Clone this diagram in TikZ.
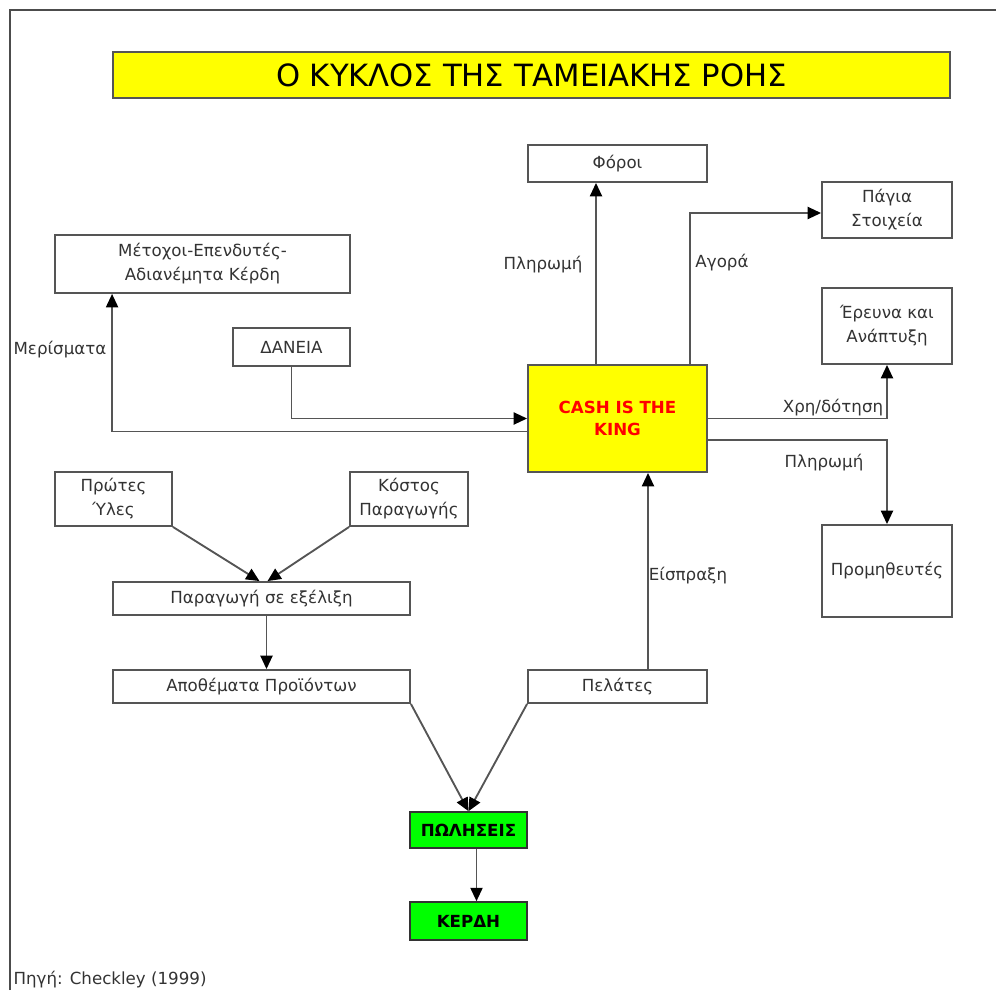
\documentclass[tikz,border=0pt]{standalone}
\usepackage{fontspec}
\setmainfont{DejaVu Sans}
\usepackage{xcolor}
\definecolor{TitleYellow}{HTML}{FFFF00}
\definecolor{SalesGreen}{HTML}{00FF00}
\definecolor{KingRed}{HTML}{FF0000}
\definecolor{LineGrey}{HTML}{555555}
\usetikzlibrary{arrows.meta, positioning, calc}
\tikzset{
  % Box styles
  flowbox/.style={rectangle, draw=LineGrey, line width=1.4pt, fill=white, inner sep=2pt, align=center, text=black!80, font=\fontsize{12.5}{18}\selectfont},
  cashbox/.style={flowbox, fill=TitleYellow, text=KingRed, font=\fontsize{12.5}{17}\selectfont\bfseries},
  salesbox/.style={rectangle, draw=black!80, line width=1.2pt, fill=SalesGreen, align=center, font=\fontsize{12.5}{15}\selectfont\bfseries},
  titlebox/.style={rectangle, draw=LineGrey, line width=1.4pt, fill=TitleYellow, align=center, font=\fontsize{23}{27}\selectfont},
  % Label style
  flowlabel/.style={inner sep=1pt, text=black!80, font=\fontsize{12.5}{15}\selectfont},
  % Arrow styles
  arrow/.style={-{Triangle[length=10pt,width=9pt,color=black]}, line width=1.4pt, LineGrey}
}

\begin{document}
\begin{tikzpicture}[x=0.75pt,y=-0.75pt]
  \useasboundingbox (0,0) rectangle (996,990);
  % outer frame
  \draw[line width=1.2pt, black!70] (10,990) -- (10,10) -- (996,10);

  % Title
  \node[titlebox, minimum width=627.75pt, minimum height=34.5pt] (title) at (531.5,75) {Ο ΚΥΚΛΟΣ ΤΗΣ ΤΑΜΕΙΑΚΗΣ ΡΟΗΣ};

  % Boxes
  \node[flowbox, minimum width=134.25pt, minimum height=27.75pt] (foroi) at (617.5,163.5) {Φόροι};
  \node[flowbox, minimum width=97.5pt, minimum height=42pt] (pagia) at (887,210) {Πάγια\\Στοιχεία};
  \node[flowbox, minimum width=221.25pt, minimum height=43.5pt] (metoxoi) at (202.5,264) {Μέτοχοι-Επενδυτές-\\Αδιανέμητα Κέρδη};
  \node[flowbox, minimum width=97.5pt, minimum height=57pt] (erevna) at (887,326) {Έρευνα και\\Ανάπτυξη};
  \node[flowbox, minimum width=87.75pt, minimum height=28.5pt] (daneia) at (291.5,347) {ΔΑΝΕΙΑ};
  \node[cashbox, minimum width=134.25pt, minimum height=80.25pt] (cash) at (617.5,418.5) {CASH IS THE\\KING};
  \node[flowbox, minimum width=87.75pt, minimum height=40.5pt] (protes) at (113.5,499) {Πρώτες\\Ύλες};
  \node[flowbox, minimum width=88.5pt, minimum height=40.5pt] (kostos) at (409,499) {Κόστος\\Παραγωγής};
  \node[flowbox, minimum width=97.5pt, minimum height=69pt] (promitheftes) at (887,571) {Προμηθευτές};
  \node[flowbox, minimum width=222.75pt, minimum height=24.75pt] (paragogi) at (261.5,598.5) {Παραγωγή σε εξέλιξη};
  \node[flowbox, minimum width=222.75pt, minimum height=24.75pt] (apothemata) at (261.5,686.5) {Αποθέματα Προϊόντων};
  \node[flowbox, minimum width=134.25pt, minimum height=24.75pt] (pelates) at (617.5,686.5) {Πελάτες};
  \node[salesbox, minimum width=87.75pt, minimum height=27pt] (poliseis) at (468.5,830) {ΠΩΛΗΣΕΙΣ};
  \node[salesbox, minimum width=87.75pt, minimum height=28.5pt] (kerdi) at (468.5,921) {ΚΕΡΔΗ};

  % Connectors out of the cash box
  \draw[arrow] ($(cash.west)+(0,13)$) -| ($(metoxoi.south west)+(58,0)$);
  \draw[arrow] (daneia.south) |- (cash.west);
  \draw[arrow] ($(cash.north)+(-21.5,0)$) -- ($(foroi.south)+(-21.5,0)$);
  \draw[arrow] ($(cash.north)+(72.5,0)$) |- ($(pagia.west)+(0,3)$);
  \draw[arrow] (cash.east) -| (erevna.south);
  \draw[arrow] ($(cash.east)+(0,21.5)$) -| (promitheftes.north);
  \draw[arrow] ($(pelates.north)+(30.5,0)$) -- ($(cash.south)+(30.5,0)$);

  % Production chain
  \draw[arrow] (protes.south east) -- ($(paragogi.north)+(-2,0)$);
  \draw[arrow] (kostos.south west) -- ($(paragogi.north)+(6,0)$);
  \draw[arrow] ($(paragogi.south)+(5,0)$) -- ($(apothemata.north)+(5,0)$);
  \draw[arrow] (apothemata.south east) -- (poliseis.north);
  \draw[arrow] (pelates.south west) -- (poliseis.north);
  \draw[arrow] ($(poliseis.south)+(8,0)$) -- ($(kerdi.north)+(8,0)$);

  % Labels
  \node[flowlabel] (merismata) at (60,350) {Μερίσματα};
  \node[flowlabel] (plirforoi) at (543,265) {Πληρωμή};
  \node[flowlabel] (agora) at (722,263) {Αγορά};
  \node[flowlabel] (xrimatodotisi) at (833,408) {Χρη/δότηση};
  \node[flowlabel] (plirpromith) at (824,463) {Πληρωμή};
  \node[flowlabel] (eispraxi) at (688,576) {Είσπραξη};
  \node[flowlabel, anchor=west] (pigi) at (12,980) {Πηγή: Checkley (1999)};
\end{tikzpicture}
\end{document}
